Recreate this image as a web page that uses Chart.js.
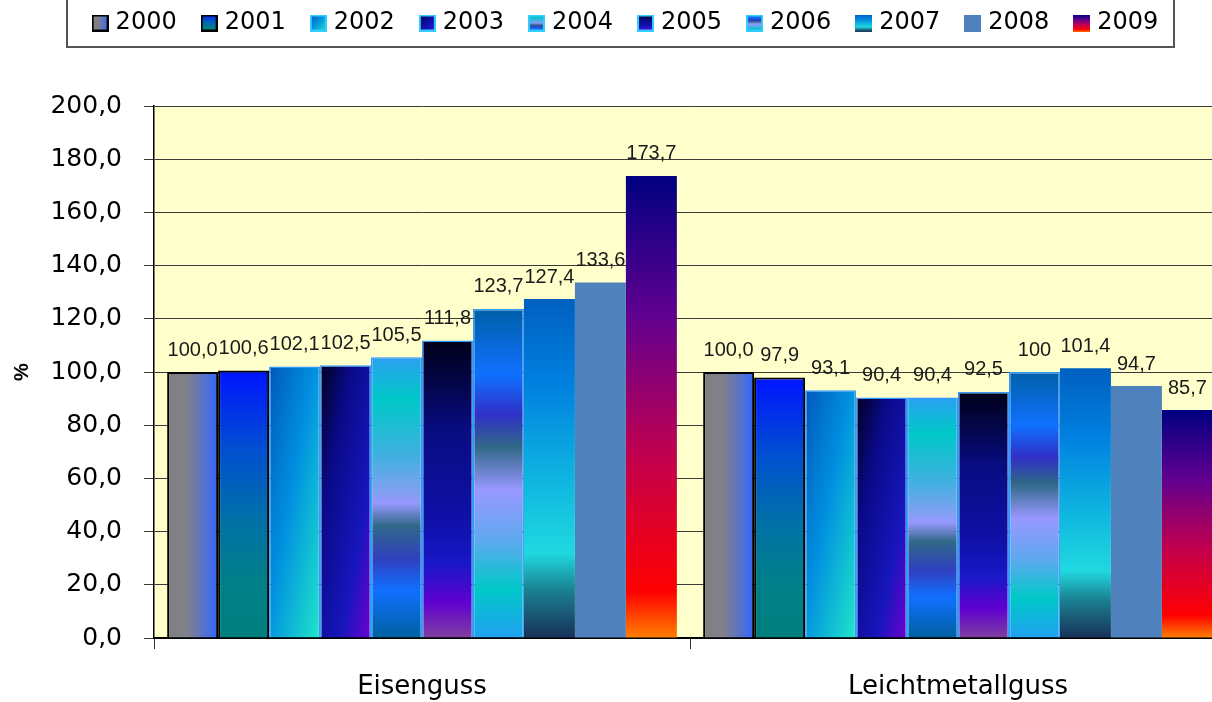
<!DOCTYPE html>
<html lang="de">
<head>
    <meta charset="UTF-8">
    <title>Eisenguss / Leichtmetallguss 2000-2009</title>
    <script src="https://cdn.jsdelivr.net/npm/chart.js"></script>
    <style>
        body {
            margin: 0;
            background: #fff;
            overflow: hidden;
        }
        #wrap {
            width: 1226px;
            height: 702px;
        }
    </style>
</head>
<body>
<div id="wrap"><canvas id="chart"></canvas></div>
<script>
    // values (index 2000 = 100)
    const years = ['2000', '2001', '2002', '2003', '2004', '2005', '2006', '2007', '2008', '2009'];
    const categories = ['Eisenguss', 'Leichtmetallguss'];
    const eisenguss = [100.0, 100.6, 102.1, 102.5, 105.5, 111.8, 123.7, 127.4, 133.6, 173.7];
    const leichtmetallguss = [100.0, 97.9, 93.1, 90.4, 90.4, 92.5, 100, 101.4, 94.7, 85.7];
    const eisenLabels = ['100,0', '100,6', '102,1', '102,5', '105,5', '111,8', '123,7', '127,4', '133,6', '173,7'];
    const leichtLabels = ['100,0', '97,9', '93,1', '90,4', '90,4', '92,5', '100', '101,4', '94,7', '85,7'];
    const valueLabels = [eisenLabels, leichtLabels];

    const CAT_PCT = 0.951;

    // Excel-style preset fills, one per year
    const fills = [
        { dir: 'h', stops: [[0, '#808080'], [0.4, '#80808c'], [1, '#3366ff']], border: '#000', bw: 2 },
        { dir: 'v', stops: [[0, '#0014ff'], [0.3, '#0050d0'], [0.55, '#0070a8'], [0.8, '#008088'], [1, '#007f7f']], border: '#000', bw: 2 },
        { dir: 'd', stops: [[0, '#0058bc'], [0.45, '#0090e0'], [1, '#20e6c8']], border: '#3399ff', bw: 1.5 },
        { dir: 'd', stops: [[0, '#000020'], [0.3, '#0a0a88'], [0.7, '#1616bc'], [1, '#7000d0']], border: '#3399ff', bw: 1.5 },
        { dir: 'v', stops: [[0, '#2aa0f0'], [0.15, '#00c8c8'], [0.35, '#40b0e0'], [0.48, '#80a0f0'], [0.52, '#9898ff'], [0.6, '#306888'], [0.72, '#3040c0'], [0.83, '#1070ff'], [1, '#0060a0']], border: '#3399ff', bw: 1.5 },
        { dir: 'v', stops: [[0, '#000018'], [0.3, '#080c80'], [0.6, '#1010a8'], [0.75, '#1818c8'], [0.88, '#6000d0'], [1, '#8040a0']], border: '#3399ff', bw: 1.5 },
        { dir: 'v', stops: [[0, '#0060a8'], [0.2, '#1070ff'], [0.32, '#3030c8'], [0.42, '#306888'], [0.55, '#9898ff'], [0.7, '#60a8f0'], [0.85, '#00c8c8'], [1, '#20a0f0']], border: '#3399ff', bw: 1.5 },
        { dir: 'v', stops: [[0, '#0060c0'], [0.25, '#0080e0'], [0.55, '#10b8e0'], [0.75, '#20d8e0'], [0.86, '#1a8090'], [1, '#183058']], border: 'rgba(0,0,0,0)', bw: 0 },
        { solid: '#4f81bd', border: 'rgba(0,0,0,0)', bw: 0 },
        { dir: 'v', stops: [[0, '#000080'], [0.3, '#600090'], [0.6, '#c00050'], [0.9, '#ff0000'], [1, '#ff8000']], border: 'rgba(0,0,0,0)', bw: 0 }
    ];

    function paint(g2d, spec, b) {
        if (spec.solid) return spec.solid;
        let g;
        if (spec.dir === 'h') {
            g = g2d.createLinearGradient(b.left, 0, b.right, 0);
        } else if (spec.dir === 'v') {
            g = g2d.createLinearGradient(0, b.top, 0, b.bottom);
        } else {
            // diagonal in the shape's own box, like Office does it
            const w = b.right - b.left, h = b.bottom - b.top;
            const k = 2 * w * h / (w * w + h * h);
            g = g2d.createLinearGradient(b.left, b.top, b.left + h * k, b.top + w * k);
        }
        spec.stops.forEach(([o, c]) => g.addColorStop(o, c));
        return g;
    }

    // where the library will put this bar, only used to size its gradient
    function barBox(c) {
        const chart = c.chart, area = chart.chartArea;
        if (!area || c.type !== 'data') return null;
        const n = chart.data.datasets.length;
        const catW = (area.right - area.left) / chart.data.labels.length;
        const groupW = catW * CAT_PCT;
        const barW = groupW / n;
        const left = chart.scales.x.getPixelForValue(c.dataIndex) - groupW / 2 + c.datasetIndex * barW;
        return {
            left: left,
            right: left + barW,
            top: chart.scales.y.getPixelForValue(c.raw),
            bottom: chart.scales.y.getPixelForValue(0)
        };
    }

    function fillFor(i) {
        return (c) => {
            const b = barBox(c);
            if (!b) return fills[i].solid || fills[i].stops[0][1];
            return paint(c.chart.ctx, fills[i], b);
        };
    }

    // little legend swatches
    const icons = fills.map((spec) => {
        const cv = document.createElement('canvas');
        cv.width = 17; cv.height = 17;
        const g = cv.getContext('2d');
        g.fillStyle = paint(g, spec, { left: 0, top: 0, right: 17, bottom: 17 });
        g.fillRect(0, 0, 17, 17);
        if (spec.bw > 0) {
            g.strokeStyle = spec.border === '#000' ? '#000' : '#33ccff';
            g.lineWidth = 2;
            g.strokeRect(1, 1, 15, 15);
        }
        return cv;
    });

    const datasets = years.map((y, i) => ({
        label: y,
        data: [eisenguss[i], leichtmetallguss[i]],
        backgroundColor: fillFor(i),
        borderColor: fills[i].border,
        borderWidth: fills[i].bw,
        categoryPercentage: CAT_PCT,
        barPercentage: 1.0
    }));

    const plotBg = {
        id: 'plotBg',
        beforeDraw(chart) {
            const a = chart.chartArea, ctx = chart.ctx;
            ctx.save();
            ctx.fillStyle = '#ffffcc';
            ctx.fillRect(a.left, a.top, a.right - a.left, a.bottom - a.top);
            ctx.restore();
        }
    };

    // keep the legend band at a fixed height so the plot starts where it should
    const legendBand = {
        id: 'legendBand',
        beforeUpdate(chart) {
            const lg = chart.legend;
            if (lg && !lg.__band) {
                const fit = lg.fit;
                lg.fit = function () {
                    fit.call(this);
                    this.height = 124;
                };
                lg.__band = true;
            }
        },
        afterDraw(chart) {
            const ctx = chart.ctx;
            ctx.save();
            ctx.strokeStyle = '#555';
            ctx.lineWidth = 2;
            ctx.strokeRect(67, -6, 1107, 53);
            ctx.restore();
        }
    };

    const barLabels = {
        id: 'barLabels',
        afterDatasetsDraw(chart) {
            const ctx = chart.ctx;
            ctx.save();
            ctx.font = '20px "Liberation Sans", Arial, sans-serif';
            ctx.fillStyle = '#1a1a1a';
            ctx.textAlign = 'center';
            ctx.textBaseline = 'middle';
            chart.data.datasets.forEach((ds, i) => {
                chart.getDatasetMeta(i).data.forEach((el, j) => {
                    ctx.fillText(valueLabels[j][i], el.x, el.y - 22);
                });
            });
            ctx.restore();
        }
    };

    new Chart(document.getElementById('chart'), {
        type: 'bar',
        data: { labels: categories, datasets: datasets },
        options: {
            responsive: true,
            maintainAspectRatio: false,
            animation: false,
            devicePixelRatio: 1,
            layout: { padding: { top: -18, left: 29, right: 0, bottom: 0 } },
            plugins: {
                tooltip: { enabled: false },
                legend: {
                    position: 'top',
                    labels: {
                        usePointStyle: true,
                        boxWidth: 7,
                        padding: 29,
                        color: '#000',
                        font: { family: '"DejaVu Sans", sans-serif', size: 24 },
                        generateLabels: (chart) => chart.data.datasets.map((ds, i) => ({
                            text: ds.label,
                            pointStyle: icons[i],
                            fillStyle: 'rgba(0,0,0,0)',
                            strokeStyle: 'rgba(0,0,0,0)',
                            lineWidth: 0,
                            fontColor: '#000',
                            hidden: false,
                            datasetIndex: i
                        }))
                    }
                }
            },
            scales: {
                x: {
                    afterFit: (s) => { s.height = 64; },
                    grid: { offset: true, drawOnChartArea: false, drawTicks: true, tickLength: 11, color: '#333' },
                    border: { display: true, color: '#000', width: 2 },
                    ticks: {
                        color: '#000',
                        padding: 23,
                        font: { family: '"DejaVu Sans", sans-serif', size: 26 }
                    }
                },
                y: {
                    min: 0,
                    max: 200,
                    afterFit: (s) => { s.width = 125; },
                    grid: { color: '#3a3a3a', lineWidth: 1, tickLength: 10 },
                    border: { display: true, color: '#000', width: 1.5 },
                    ticks: {
                        stepSize: 20,
                        color: '#000',
                        padding: 22,
                        font: { family: '"DejaVu Sans", sans-serif', size: 25 },
                        callback: (v) => Number(v).toFixed(1).replace('.', ',')
                    },
                    title: {
                        display: true,
                        text: '%',
                        color: '#000',
                        padding: { top: -19, bottom: 0 },
                        font: { family: '"Liberation Sans", Arial, sans-serif', size: 20, weight: 'bold' }
                    }
                }
            }
        },
        plugins: [plotBg, legendBand, barLabels]
    });
</script>
</body>
</html>
